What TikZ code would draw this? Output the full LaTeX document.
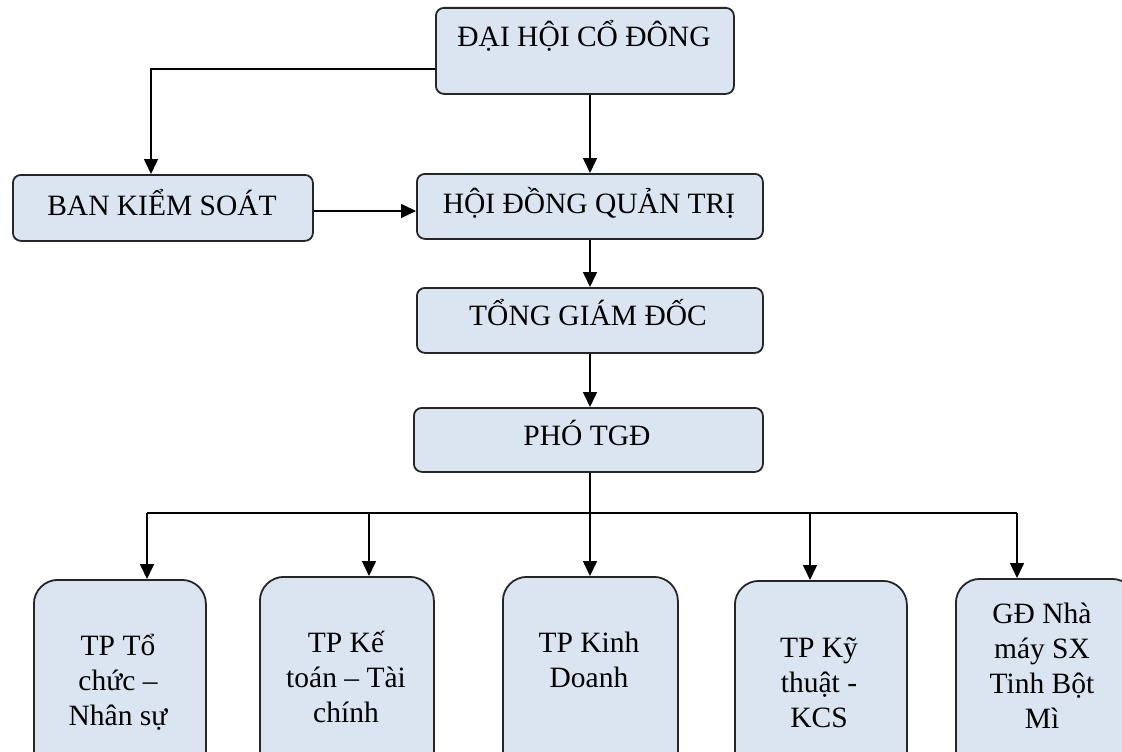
\documentclass[tikz,border=0pt]{standalone}
\usepackage{fontspec}
\setmainfont{Liberation Serif}
\usetikzlibrary{arrows.meta}
\definecolor{boxfill}{RGB}{219,229,241}
\begin{document}
\begin{tikzpicture}[x=1pt,y=-1pt,
  box/.style={draw=black!85, line width=1.8pt, fill=boxfill, rounded corners=8pt, shape=rectangle, anchor=north west, inner sep=0pt},
  ubox/.style={draw=black!85, line width=1.8pt, fill=boxfill, rounded corners=24pt, shape=rectangle, anchor=north west, inner sep=0pt},
  txt/.style={font=\fontsize{29.5}{35}\selectfont, align=center, anchor=base, inner sep=0pt},
  conn/.style={line width=1.6pt, -{Triangle[length=15pt,width=14pt]}},
  busline/.style={line width=1.6pt}]
\useasboundingbox (0,0) rectangle (1122,752);
\clip (0,0) rectangle (1122,752);
% boxes
\node[box, minimum width=298pt, minimum height=86pt] (dh) at (435,7) {};
\node[box, minimum width=300pt, minimum height=66pt] (bks) at (12,174) {};
\node[box, minimum width=346pt, minimum height=65pt] (hd) at (416,173) {};
\node[box, minimum width=346pt, minimum height=65pt] (tgd) at (416,287) {};
\node[box, minimum width=349pt, minimum height=64pt] (pho) at (413,407) {};
\node[ubox, minimum width=172pt, minimum height=200pt] (b1) at (33,579) {};
\node[ubox, minimum width=174pt, minimum height=200pt] (b2) at (259,576) {};
\node[ubox, minimum width=175pt, minimum height=200pt] (b3) at (502,576) {};
\node[ubox, minimum width=172pt, minimum height=200pt] (b4) at (734,580) {};
\node[ubox, minimum width=180pt, minimum height=200pt] (b5) at (955,578) {};
% texts (anchor base = baseline of the last line)
\node[txt] (t0) at (584,47) {ĐẠI HỘI CỔ ĐÔNG};
\node[txt] (t1) at (162,215) {BAN KIỂM SOÁT};
\node[txt] (t2) at (589,213) {HỘI ĐỒNG QUẢN TRỊ};
\node[txt] (t3) at (588,325) {TỔNG GIÁM ĐỐC};
\node[txt] (t4) at (587,445) {PHÓ TGĐ};
\node[txt] (t5) at (118,725) {TP Tổ\\chức –\\Nhân sự};
\node[txt] (t6) at (346,722) {TP Kế\\toán – Tài\\chính};
\node[txt] (t7) at (589,687) {TP Kinh\\Doanh};
\node[txt] (t8) at (819,727) {TP Kỹ\\thuật -\\KCS};
\node[txt] (t9) at (1042,728) {GĐ Nhà\\máy SX\\Tinh Bột\\Mì};
% helper coordinates
\coordinate (dhL) at ([yshift=-18pt]dh.west);
\coordinate (kx) at (151,0);
\coordinate (xs) at (590,0);
\coordinate (ya) at (0,211);
\coordinate (busy) at (0,513);
\coordinate (x1) at (147,0);
\coordinate (x2) at (369,0);
\coordinate (x4) at (810,0);
\coordinate (x5) at (1017,0);
% connectors
\draw[conn] (dhL) -| (bks.north -| kx);
\draw[conn] (dh.south -| xs) -- (hd.north -| xs);
\draw[conn] (bks.east |- ya) -- (hd.west |- ya);
\draw[conn] (hd.south -| xs) -- (tgd.north -| xs);
\draw[conn] (tgd.south -| xs) -- (pho.north -| xs);
\draw[busline] (pho.south -| xs) -- (xs |- busy);
\draw[busline] (x1 |- busy) -- (x5 |- busy);
\draw[conn] (x1 |- busy) -- (b1.north -| x1);
\draw[conn] (x2 |- busy) -- (b2.north -| x2);
\draw[conn] (xs |- busy) -- (b3.north -| xs);
\draw[conn] (x4 |- busy) -- (b4.north -| x4);
\draw[conn] (x5 |- busy) -- (b5.north -| x5);
\end{tikzpicture}
\end{document}
